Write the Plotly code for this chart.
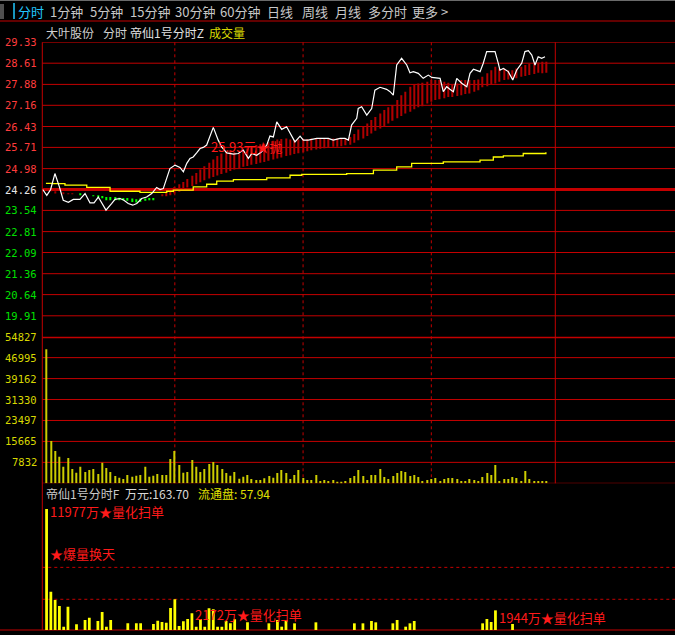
import plotly.graph_objects as go

W, H = 675, 635

# ---------------- data ----------------
price_ticks = [29.33, 28.61, 27.88, 27.16, 26.43, 25.71, 24.98, 24.26,
               23.54, 22.81, 22.09, 21.36, 20.64, 19.91]
price_low = 19.19
prev_close = 24.26
vol_ticks = [54827, 46995, 39162, 31330, 23497, 15665, 7832]

price_time = [-1.8, 0.1, 1.9, 3.9, 6.0, 7.8, 10.2, 12.5, 15.6, 18.0, 20.3, 22.2, 24.2, 25.8,
              27.8, 30.5, 32.0, 34.4, 36.2, 38.2, 40.3, 42.2, 44.5, 46.8, 49.2, 51.5, 53.1,
              54.6, 56.2, 57.7, 60.1, 62.4, 64.0, 65.6, 67.1, 68.6, 70.2, 71.8, 73.3, 74.9,
              78.0, 80.3, 81.9, 84.3, 87.4, 89.7, 92.0, 94.4, 96.0, 98.3, 100.6, 103.0,
              104.5, 106.1, 107.7, 110.0, 112.3, 113.9, 116.2, 118.6, 120.1, 122.4, 126.4,
              131.8, 134.1, 137.3, 139.6, 141.2, 142.7, 145.1, 145.8, 147.4, 149.8, 152.1,
              153.6, 156.0, 159.1, 160.7, 162.2, 163.8, 166.1, 168.5, 170.0, 171.6, 173.9,
              176.2, 178.6, 180.2, 182.5, 184.1, 185.6, 187.2, 188.7, 190.3, 191.9, 194.2,
              196.6, 198.1, 199.7, 201.2, 202.8, 204.3, 205.9, 207.5, 209.8, 211.3, 212.1,
              213.7, 216.0, 218.1, 219.9, 222.3, 223.8, 225.4, 227.0, 228.5, 230.0, 231.6,
              233.2]
price = [24.26, 24.06, 24.26, 24.81, 24.35, 23.89, 23.82, 23.92, 23.92, 24.12, 23.80, 23.80,
         24.00, 23.78, 23.55, 23.78, 23.92, 23.95, 23.89, 23.78, 23.72, 23.78, 23.95, 24.00,
         24.12, 24.33, 24.26, 24.29, 24.69, 24.98, 25.10, 25.02, 24.87, 25.16, 25.33, 25.38,
         25.52, 25.67, 25.71, 25.79, 26.40, 25.96, 25.73, 25.52, 25.48, 25.50, 25.62, 25.33,
         25.50, 25.44, 25.56, 25.79, 26.10, 26.07, 26.59, 26.33, 26.42, 26.19, 25.90, 26.10,
         25.96, 25.96, 26.02, 26.02, 25.96, 26.02, 26.02, 25.96, 26.48, 26.71, 27.05, 27.11,
         26.82, 27.05, 27.68, 27.78, 27.71, 27.63, 27.51, 28.55, 28.78, 28.55, 28.28, 28.32,
         28.26, 28.09, 28.20, 28.12, 28.09, 28.09, 27.63, 27.80, 27.71, 27.63, 28.09, 27.92,
         27.80, 28.26, 28.40, 28.37, 28.32, 28.61, 29.01, 29.01, 29.01, 28.61, 28.37, 28.43,
         28.32, 28.03, 28.37, 28.61, 29.01, 29.04, 28.89, 28.55, 28.83, 28.78, 28.83]

avg_time = [-0.3, 2.4, 8.6, 18.8, 29.7, 43.7, 53.1, 56.2, 59.3, 68.6, 74.9, 79.6, 87.4,
            103.0, 113.9, 119.4, 140.4, 152.9, 163.8, 170.8, 185.6, 202.8, 209.0, 213.7,
            223.0, 233.6]
avg_price = [24.47, 24.46, 24.41, 24.33, 24.20, 24.16, 24.16, 24.20, 24.24, 24.35, 24.44,
             24.55, 24.60, 24.66, 24.75, 24.78, 24.81, 24.93, 25.04, 25.16, 25.21, 25.27,
             25.38, 25.42, 25.50, 25.54]

# 帝仙1号分时Z band (red bars)
band_time = list(range(56, 236, 2))
band_top = [24.18, 24.26, 24.35, 24.44, 24.52, 24.62, 24.73, 24.83, 24.95, 25.06,
            25.18, 25.29, 25.41, 25.50, 25.59, 25.61, 25.54, 25.50, 25.59, 25.67,
            25.73, 25.79, 25.82, 25.84, 25.89, 25.94, 25.98, 26.00, 26.02, 25.98,
            25.96, 25.98, 26.00, 26.00, 26.02, 26.02, 26.02, 26.02, 26.00, 26.02,
            26.02, 26.02, 26.00, 26.07, 26.17, 26.33, 26.42, 26.53, 26.65, 26.76,
            26.88, 27.00, 27.09, 27.17, 27.34, 27.51, 27.63, 27.80, 27.86, 27.91,
            27.94, 27.97, 28.03, 28.03, 28.03, 27.97, 27.94, 27.86, 27.91, 28.03,
            28.03, 28.03, 28.03, 28.05, 28.14, 28.26, 28.37, 28.49, 28.43, 28.43,
            28.37, 28.37, 28.43, 28.49, 28.55, 28.60, 28.60, 28.63, 28.66, 28.66]
band_bottom = [24.03, 24.06, 24.12, 24.18, 24.26, 24.33, 24.38, 24.44, 24.51, 24.58,
               24.64, 24.69, 24.74, 24.79, 24.84, 24.90, 24.95, 24.99, 25.04, 25.07,
               25.11, 25.14, 25.18, 25.21, 25.25, 25.29, 25.33, 25.36, 25.41, 25.44,
               25.48, 25.51, 25.54, 25.58, 25.61, 25.64, 25.66, 25.68, 25.70, 25.73,
               25.73, 25.75, 25.78, 25.80, 25.87, 25.96, 26.02, 26.10, 26.19, 26.28,
               26.36, 26.44, 26.53, 26.63, 26.71, 26.79, 26.88, 26.94, 27.02, 27.09,
               27.13, 27.22, 27.28, 27.34, 27.37, 27.40, 27.45, 27.45, 27.48, 27.51,
               27.55, 27.57, 27.63, 27.68, 27.78, 27.82, 27.89, 27.91, 27.97, 28.03,
               28.05, 28.09, 28.09, 28.14, 28.17, 28.20, 28.24, 28.28, 28.26, 28.28]

green_time = [16, 22, 24, 26, 28, 30, 32, 34, 36, 38, 40, 42, 44, 46, 48, 50]
green_top = [24.12, 24.06, 24.06, 24.04, 24.00, 24.00, 24.00, 23.98, 23.97, 23.97, 23.95,
             23.92, 23.95, 23.95, 23.97, 23.97]
green_bottom = [24.07, 24.03, 24.00, 23.96, 23.89, 23.89, 23.89, 23.89, 23.89, 23.87, 23.83,
                23.81, 23.83, 23.87, 23.89, 23.92]

dred_time = [2, 4, 8, 10, 12, 54]
dred_top = [24.22, 24.20, 24.16, 24.12, 24.12, 24.08]
dred_bottom = [24.20, 24.12, 24.12, 24.10, 24.10, 24.03]

vol_time = list(range(0, 236, 2))
volume = [50100, 15790, 12060, 9950, 6216, 9450, 5346, 3978, 6216, 4226,
          4973, 5346, 3481, 7708, 5719, 4226, 2735, 2113, 1616, 3108,
          2486, 2859, 3108, 6216, 2486, 2859, 3481, 3108, 3108, 9075,
          12060, 6838, 3978, 4226, 8702, 6216, 4226, 5346, 7210, 7956,
          6838, 5346, 3854, 2859, 4226, 1740, 2486, 3108, 1616, 1243,
          1243, 1865, 2735, 2113, 3854, 4973, 3854, 1616, 3108, 4973,
          1989, 1243, 1243, 3108, 870, 1243, 870, 1243, 497, 497,
          870, 1989, 2735, 4973, 2735, 1243, 3108, 3108, 5346, 2362,
          1616, 2735, 3854, 4600, 4227, 2735, 3108, 2362, 870, 1243,
          1616, 1989, 870, 1616, 1989, 1989, 1616, 870, 870, 1616,
          1243, 870, 2362, 3854, 3108, 6838, 870, 1616, 1616, 2362,
          1989, 870, 4600, 1616, 870, 870, 870, 870]

ind_time = [0, 2, 4, 6, 8, 10, 14, 18, 20, 24, 26, 28, 30, 38, 42, 44, 50, 52, 54, 56,
            58, 60, 62, 64, 66, 68, 70, 72, 74, 76, 78, 80, 82, 84, 86, 88, 94, 104, 108,
            110, 112, 116, 126, 144, 148, 152, 154, 162, 164, 168, 170, 172, 204, 206, 208,
            210, 218]
ind_val = [11977, 3795, 2970, 2376, 330, 2310, 561, 990, 1221, 891, 1782, 330, 990, 660,
           660, 660, 594, 924, 792, 726, 2172, 3036, 396, 858, 1089, 1650, 330, 1089, 330,
           2145, 2046, 330, 330, 891, 660, 1056, 759, 660, 990, 330, 990, 660, 759, 660,
           660, 891, 759, 660, 990, 330, 660, 891, 660, 1089, 792, 1944, 594]
ind_levels = [6200, 3040]

tabs = ["分时", "1分钟", "5分钟", "15分钟", "30分钟", "60分钟", "日线", "周线", "月线", "多分时", "更多 >"]

# ---------------- layout helpers ----------------
X0, X1 = 42.3, 555.3
def px(x):
    return x / W
def py(y):
    return 1 - y / H

RED = "#c40000"
CJK = "Noto Sans CJK SC"
NUM = "DejaVu Sans Mono"

fig = go.Figure()

fig.add_trace(go.Bar(x=band_time, y=[t - b for t, b in zip(band_top, band_bottom)],
                     base=band_bottom, width=0.55, marker=dict(color="#b00000", line_width=0),
                     xaxis="x", yaxis="y"))
fig.add_trace(go.Bar(x=green_time, y=[t - b for t, b in zip(green_top, green_bottom)],
                     base=green_bottom, width=0.5, marker=dict(color="#00ff00", line_width=0),
                     xaxis="x", yaxis="y"))
fig.add_trace(go.Bar(x=dred_time, y=[t - b for t, b in zip(dred_top, dred_bottom)],
                     base=dred_bottom, width=0.5, marker=dict(color="#a00000", line_width=0),
                     xaxis="x", yaxis="y"))
fig.add_trace(go.Scatter(x=avg_time, y=avg_price, mode="lines",
                         line=dict(color="#ffff00", width=1.3, shape="hv"), xaxis="x", yaxis="y"))
fig.add_trace(go.Scatter(x=price_time, y=price, mode="lines",
                         line=dict(color="#ffffff", width=1.2), xaxis="x", yaxis="y"))
fig.add_trace(go.Bar(x=vol_time, y=volume, width=0.5,
                     marker=dict(color="#cccc00", line_width=0), xaxis="x", yaxis="y2"))
fig.add_trace(go.Bar(x=ind_time, y=ind_val, width=1.3,
                     marker=dict(color="#ffff00", line_width=0), xaxis="x", yaxis="y3"))

shapes = []
def hline(y0, y1, x0, x1, color, width, dash="solid", xref="paper", yref="paper"):
    shapes.append(dict(type="line", xref=xref, yref=yref, x0=x0, x1=x1, y0=y0, y1=y1,
                       line=dict(color=color, width=width, dash=dash), layer="below"))

# top bars
hline(py(0.5), py(0.5), 0, 1, "#6a6a6a", 1)
hline(py(21), py(21), 0, 1, RED, 1)
# price grid
for v in price_ticks:
    hline(v, v, px(X0), 1, RED, 3 if v == prev_close else 1, yref="y")
# volume grid
for v in vol_ticks:
    hline(v, v, px(X0), 1, RED, 3 if v == vol_ticks[0] else 1, yref="y2")
hline(0, 0, px(X0), 1, RED, 1, yref="y2")
# indicator
for v in ind_levels:
    hline(v, v, px(X0), 1, RED, 1, dash="dot", yref="y3")
hline(py(630), py(630), 0, 1, RED, 1)
# borders
hline(py(42.3), py(630), px(X0), px(X0), RED, 1)
hline(py(42.3), py(483.3), px(X1), px(X1), RED, 1)
for t in [60, 120, 180]:
    hline(py(42.3), py(483.3), t, t, RED, 1, dash="dot", xref="x")
# tab bar decorations
shapes.append(dict(type="rect", xref="paper", yref="paper", x0=0, x1=px(4), y0=py(19), y1=py(4),
                   fillcolor="#505050", line_width=0))
hline(py(3), py(19), px(14), px(14), "#20c8ff", 1.5)

ann = []
def text(x, y, s, color, size, xanchor="left", family=CJK, xref="paper", yref="paper",
         yanchor="middle"):
    ann.append(dict(x=x, y=y, xref=xref, yref=yref, text=s, showarrow=False,
                    xanchor=xanchor, yanchor=yanchor,
                    font=dict(color=color, size=size, family=family)))

tab_x = [16, 48, 88, 128, 173, 218, 265, 300, 333, 366, 410]
for i, (tx, s) in enumerate(zip(tab_x, tabs)):
    text(px(tx), py(11), s, "#20c8ff" if i == 0 else "#c8c8c8", 13)

text(px(44), py(32), "大叶股份", "#d0d0d0", 12)
text(px(101), py(32), "分时", "#d0d0d0", 12)
text(px(128), py(32), "帝仙1号分时Z", "#e0e0e0", 12)
text(px(207), py(32), "成交量", "#d8d800", 12)

for v in price_ticks:
    c = "#ff3c3c" if v > prev_close else ("#e6e6e6" if v == prev_close else "#00e000")
    text(px(38.5), v, f"{v:.2f}", c, 10.5, xanchor="right", family=NUM, yref="y")
for v in vol_ticks:
    text(px(38.5), v, str(v), "#d8d800", 10.5, xanchor="right", family=NUM, yref="y2")

text(px(44), py(493), "帝仙1号分时F", "#c8c8c8", 12)
text(px(123), py(493), "万元:163.70", "#d8d8d8", 12)
text(px(196), py(493), "流通盘: 57.94", "#e0e000", 12)

text(76.0, 25.74, "25.93元★抛", "#ff1a1a", 13, xref="x", yref="y")
text(0.5, 11729, "11977万★量化扫单", "#ff1a1a", 13, xref="x", yref="y3")
text(0.5, 7572, "★爆量换天", "#ff1a1a", 13, xref="x", yref="y3")
text(68.4, 1584, "2172万★量化扫单", "#ff1a1a", 13, xref="x", yref="y3")
text(210.6, 1287, "1944万★量化扫单", "#ff1a1a", 13, xref="x", yref="y3")

for cx, s in [(27, "09:30"), (283, "11:30"), (543, "15:00")]:
    text(px(cx), py(632), s, "#ff3c3c", 11, xanchor="center", family=NUM, yanchor="top")

axis_common = dict(showgrid=False, zeroline=False, showticklabels=False, showline=False,
                   ticks="", fixedrange=True)
fig.update_layout(
    width=W, height=H, margin=dict(l=0, r=0, t=0, b=0),
    paper_bgcolor="#000000", plot_bgcolor="#000000",
    showlegend=False, barmode="overlay", hovermode=False,
    xaxis=dict(range=[-2, 238], domain=[px(X0), px(X1)], anchor="y", **axis_common),
    yaxis=dict(range=[price_low, price_ticks[0]], domain=[py(336.7), py(42.3)], anchor="x",
               **axis_common),
    yaxis2=dict(range=[0, vol_ticks[0]], domain=[py(483.3), py(336.7)], anchor="x",
                **axis_common),
    yaxis3=dict(range=[0, 14520], domain=[py(630), py(483.3)], anchor="x", **axis_common),
    shapes=shapes, annotations=ann,
)

fig.write_html("out.html", config={"displayModeBar": False},
               post_script="document.body.style.margin='0';document.body.style.padding='0';"
                           "document.body.style.overflow='hidden';"
                           "document.body.style.background='#000';")
